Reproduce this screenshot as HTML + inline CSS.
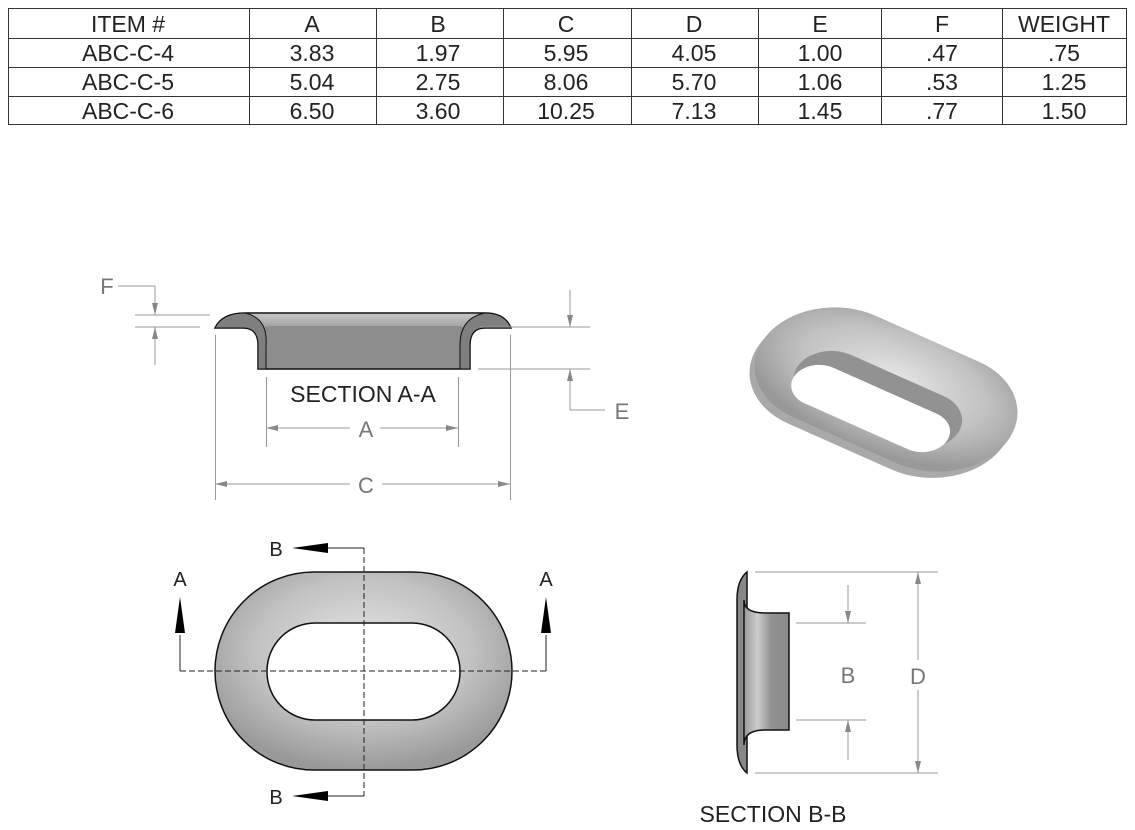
<!DOCTYPE html>
<html><head><meta charset="utf-8"><style>
body{margin:0;background:#fff}
svg{display:block}
text{font-family:"Liberation Sans",sans-serif}
</style></head><body>
<svg width="1135" height="830" viewBox="0 0 1135 830" xmlns="http://www.w3.org/2000/svg">
<defs>
<radialGradient id="g1" cx="50%" cy="40%" r="60%"><stop offset="0" stop-color="#e6e6e6"/><stop offset="0.6" stop-color="#c2c2c2"/><stop offset="1" stop-color="#999"/></radialGradient>
<linearGradient id="g2" x1="0" y1="0" x2="0" y2="1"><stop offset="0" stop-color="#c8c8c8"/><stop offset="0.3" stop-color="#9a9a9a"/><stop offset="1" stop-color="#8a8a8a"/></linearGradient>
<linearGradient id="g3" x1="0" y1="0" x2="1" y2="0"><stop offset="0" stop-color="#999"/><stop offset="0.3" stop-color="#ccc"/><stop offset="0.6" stop-color="#929292"/><stop offset="1" stop-color="#8a8a8a"/></linearGradient>
<marker id="ar" markerWidth="12" markerHeight="6" refX="12" refY="3" orient="auto" markerUnits="userSpaceOnUse"><path d="M0,0 L12,3 L0,6z" fill="#888"/></marker>
</defs>
<!-- table -->
<g stroke="#333" stroke-width="1" fill="none">
<rect x="8.5" y="8.5" width="1118" height="116"/>
<line x1="8" y1="38.5" x2="1126" y2="38.5"/><line x1="8" y1="67.5" x2="1126" y2="67.5"/><line x1="8" y1="96.5" x2="1126" y2="96.5"/>
<line x1="249.5" y1="8" x2="249.5" y2="125"/><line x1="376.5" y1="8" x2="376.5" y2="125"/><line x1="503.5" y1="8" x2="503.5" y2="125"/><line x1="631.5" y1="8" x2="631.5" y2="125"/><line x1="758.5" y1="8" x2="758.5" y2="125"/><line x1="881.5" y1="8" x2="881.5" y2="125"/><line x1="1002.5" y1="8" x2="1002.5" y2="125"/>
</g>
<g font-size="23" fill="#222" text-anchor="middle">
<text x="128" y="32">ITEM #</text><text x="312" y="32">A</text><text x="438" y="32">B</text><text x="566" y="32">C</text><text x="694" y="32">D</text><text x="820" y="32">E</text><text x="942" y="32">F</text><text x="1064" y="32">WEIGHT</text>
<text x="128" y="61">ABC-C-4</text><text x="312" y="61">3.83</text><text x="438" y="61">1.97</text><text x="566" y="61">5.95</text><text x="694" y="61">4.05</text><text x="820" y="61">1.00</text><text x="942" y="61">.47</text><text x="1064" y="61">.75</text>
<text x="128" y="90">ABC-C-5</text><text x="312" y="90">5.04</text><text x="438" y="90">2.75</text><text x="566" y="90">8.06</text><text x="694" y="90">5.70</text><text x="820" y="90">1.06</text><text x="942" y="90">.53</text><text x="1064" y="90">1.25</text>
<text x="128" y="119">ABC-C-6</text><text x="312" y="119">6.50</text><text x="438" y="119">3.60</text><text x="566" y="119">10.25</text><text x="694" y="119">7.13</text><text x="820" y="119">1.45</text><text x="942" y="119">.77</text><text x="1064" y="119">1.50</text>
</g>
<!-- Section A-A -->
<path d="M215,328 Q222,313 245,313 L485,313 Q505,313 511,328 L485,328 Q470,328 470,345 L470,369 L258,369 L258,345 Q258,328 243,328 Z" fill="url(#g2)" stroke="#111" stroke-width="1.5"/>
<path d="M258,345 Q258,326 268,326 L458,326 Q468,326 468,345 L468,368 L266,368 L266,345 Z" fill="#8d8d8d"/>
<path d="M258,369 L258,345 Q258,328 243,328 L215,328 Q222,313 245,313 Q268,318 266,345 L266,369Z" fill="#7f7f7f" stroke="#111" stroke-width="1"/>
<path d="M470,369 L470,345 Q470,328 485,328 L511,328 Q505,313 485,313 Q460,318 460,345 L460,369Z" fill="#7f7f7f" stroke="#111" stroke-width="1"/>
<g stroke="#999" stroke-width="1" fill="none">
<line x1="135" y1="315" x2="210" y2="315"/><line x1="135" y1="327" x2="200" y2="327"/>
<line x1="118" y1="286" x2="155" y2="286"/><line x1="155" y1="286" x2="155" y2="315" marker-end="url(#ar)"/><line x1="155" y1="365" x2="155" y2="327" marker-end="url(#ar)"/>
<line x1="480" y1="327" x2="590" y2="327"/><line x1="478" y1="369" x2="590" y2="369"/>
<line x1="570" y1="290" x2="570" y2="327" marker-end="url(#ar)"/><line x1="570" y1="410" x2="570" y2="369" marker-end="url(#ar)"/><line x1="570" y1="410" x2="605" y2="410"/>
<line x1="215.5" y1="335" x2="215.5" y2="500"/><line x1="510.5" y1="335" x2="510.5" y2="500"/>
<line x1="266.5" y1="377" x2="266.5" y2="447"/><line x1="458.5" y1="377" x2="458.5" y2="447"/>
<line x1="350" y1="428" x2="266" y2="428" marker-end="url(#ar)"/><line x1="380" y1="428" x2="458" y2="428" marker-end="url(#ar)"/>
<line x1="350" y1="484" x2="215" y2="484" marker-end="url(#ar)"/><line x1="382" y1="484" x2="510" y2="484" marker-end="url(#ar)"/>
</g>
<g fill="#777" font-size="22" text-anchor="middle"><text x="107" y="294">F</text><text x="622" y="419">E</text><text x="366" y="437">A</text><text x="366" y="493">C</text></g>
<text x="363" y="402" font-size="23" fill="#222" text-anchor="middle">SECTION A-A</text>
<!-- 3D -->
<g transform="translate(884,392) scale(1,0.74) rotate(31)">
<rect x="-140" y="-74" width="280" height="160" rx="80" fill="#a9a9a9"/>
<rect x="-140" y="-84" width="280" height="160" rx="80" fill="url(#g1)"/>
<rect x="-92" y="-26" width="184" height="76" rx="38" fill="#929292"/>
<rect x="-88" y="-2" width="176" height="56" rx="28" fill="#fff"/>
</g>
<!-- top view -->
<rect x="215" y="572" width="297" height="198" rx="99" fill="url(#g1)" stroke="#111" stroke-width="1.5"/>
<rect x="267" y="623" width="193" height="97" rx="48" fill="#fff" stroke="#111" stroke-width="1.5"/>
<g stroke="#222" stroke-width="1" stroke-dasharray="6,3" fill="none">
<line x1="180" y1="671" x2="546" y2="671"/><line x1="364" y1="548" x2="364" y2="796"/>
</g>
<g stroke="#222" stroke-width="1" fill="none"><line x1="180" y1="635" x2="180" y2="671"/><line x1="546" y1="635" x2="546" y2="671"/><line x1="300" y1="548" x2="364" y2="548"/><line x1="300" y1="796" x2="364" y2="796"/></g>
<path d="M180,597 L175,633 L185,633Z M546,597 L541,633 L551,633Z M292,548 L328,543 L328,553Z M292,796 L328,791 L328,801Z" fill="#000"/>
<g font-size="20" fill="#222" text-anchor="middle"><text x="180" y="586">A</text><text x="546" y="586">A</text><text x="276" y="556">B</text><text x="276" y="804">B</text></g>
<!-- Section B-B -->
<path d="M747,572 Q737,580 737,600 L737,745 Q737,765 747,773 Z" fill="#888" stroke="#111" stroke-width="1.5"/>
<path d="M744,600 Q744,613 765,613 L789,613 L789,730 L765,730 Q744,730 744,745 Z" fill="url(#g3)" stroke="#111" stroke-width="1.5"/>
<g stroke="#999" stroke-width="1" fill="none">
<line x1="755" y1="572" x2="938" y2="572"/><line x1="755" y1="773" x2="938" y2="773"/>
<line x1="796" y1="623" x2="866" y2="623"/><line x1="796" y1="720" x2="866" y2="720"/>
<line x1="848" y1="585" x2="848" y2="623" marker-end="url(#ar)"/><line x1="848" y1="760" x2="848" y2="720" marker-end="url(#ar)"/>
<line x1="918" y1="660" x2="918" y2="572" marker-end="url(#ar)"/><line x1="918" y1="690" x2="918" y2="773" marker-end="url(#ar)"/>
</g>
<g fill="#777" font-size="22" text-anchor="middle"><text x="848" y="683">B</text><text x="918" y="684">D</text></g>
<text x="773" y="822" font-size="23" fill="#222" text-anchor="middle">SECTION B-B</text>
</svg>
</body></html>
